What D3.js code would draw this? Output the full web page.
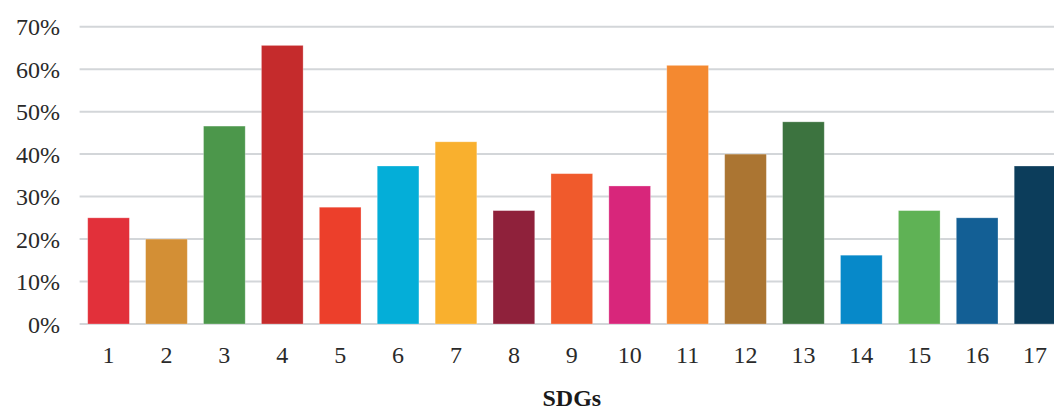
<!DOCTYPE html>
<html>
<head>
<meta charset="utf-8">
<script src="https://cdn.jsdelivr.net/npm/d3@7"></script>
<style>
  html, body { margin: 0; padding: 0; background: #fff; }
  svg { display: block; }
</style>
</head>
<body>
<svg id="chart" width="1054" height="410"></svg>
<script>
const categories = ["1","2","3","4","5","6","7","8","9","10","11","12","13","14","15","16","17"];
const values = [0.25, 0.20, 0.466, 0.656, 0.275, 0.372, 0.429, 0.267, 0.354, 0.325, 0.609, 0.40, 0.476, 0.162, 0.267, 0.25, 0.372];
const barColors = ["#e2303a","#d38f35","#4c974b","#c52b2c","#ec3f2b","#04aed8","#f9b02e","#8f213b","#f05a2c","#d8267b","#f48930","#ab7532","#3c733f","#0789c9","#5fb255","#135f95","#0c3d5b"];
const yTicks = [0, 0.1, 0.2, 0.3, 0.4, 0.5, 0.6, 0.7];
const xTitle = "SDGs";

const svg = d3.select("#chart");
const plotLeft = 79.6, plotRight = 1064, plotTop = 26.7, plotBottom = 324;

const x = d3.scaleBand().domain(categories).range([plotLeft, plotRight]).paddingInner(0.28).paddingOuter(0.14);
const y = d3.scaleLinear().domain([0, 0.7]).range([plotBottom, plotTop]);

// gridlines
svg.append("g").selectAll("line").data(yTicks).join("line")
  .attr("x1", plotLeft).attr("x2", plotRight)
  .attr("y1", d => y(d)).attr("y2", d => y(d))
  .attr("stroke", "#d3d6d9").attr("stroke-width", 2);

// y labels
const yAxis = d3.axisLeft(y).tickValues(yTicks).tickFormat(d3.format(".0%")).tickSize(0).tickPadding(0);
const gy = svg.append("g").attr("transform", `translate(${plotLeft - 19.5},0)`).call(yAxis);
gy.select(".domain").remove();
gy.selectAll("text").attr("font-family", "'Liberation Serif', 'Times New Roman', serif")
  .attr("font-size", 24).attr("fill", "#2a2a2a").attr("dy", "0.34em");

// bars
svg.append("g").selectAll("rect").data(values).join("rect")
  .attr("x", (d, i) => x(categories[i]))
  .attr("width", x.bandwidth())
  .attr("y", d => y(d))
  .attr("height", d => y(0) - y(d))
  .attr("fill", (d, i) => barColors[i])
  .attr("stroke", "rgba(255,255,255,0.35)").attr("stroke-width", 0.8);

// x labels
const xAxis = d3.axisBottom(x).tickSize(0).tickPadding(0);
const gx = svg.append("g").attr("transform", `translate(0,${plotBottom})`).call(xAxis);
gx.select(".domain").remove();
gx.selectAll("text").attr("font-family", "'Liberation Serif', 'Times New Roman', serif")
  .attr("font-size", 24).attr("fill", "#2a2a2a").attr("dy", 0).attr("y", 39);

// x title
svg.append("text")
  .attr("x", (plotLeft + plotRight) / 2).attr("y", 406)
  .attr("text-anchor", "middle")
  .attr("font-family", "'Liberation Serif', 'Times New Roman', serif")
  .attr("font-size", 24).attr("font-weight", "bold").attr("fill", "#1a1a1a")
  .text(xTitle);
</script>
</body>
</html>
